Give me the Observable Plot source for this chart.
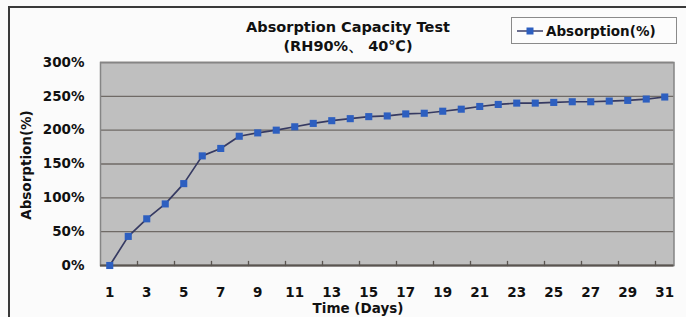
<!DOCTYPE html>
<html>
<head>
<meta charset="utf-8">
<script src="https://cdn.jsdelivr.net/npm/d3@7"></script>
<script src="https://cdn.jsdelivr.net/npm/@observablehq/plot@0.6"></script>
<style>
  html, body { margin: 0; padding: 0; background: #fbfbfb; }
  #wrap { position: relative; width: 686px; height: 317px; overflow: hidden; font-family: "DejaVu Sans", "Liberation Sans", sans-serif; font-weight: bold; color: #111; }
  #border { position: absolute; left: 8px; top: 6px; width: 700px; height: 330px; border-left: 2px solid #3a3a3a; border-top: 2px solid #3a3a3a; }
  #chart { position: absolute; left: 0; top: 0; }
  .title { position: absolute; left: 348px; transform: translateX(-50%); white-space: nowrap; font-size: 14.5px; }
  #legend { position: absolute; left: 511px; top: 17px; width: 164px; height: 25px; border: 1px solid #8a8a8a; background: #fcfcfc; display: flex; align-items: center; font-size: 13.5px; }
  #legend svg { margin-left: 5px; margin-right: 3px; }
  #ytitle { position: absolute; left: 26px; top: 165px; transform: translate(-50%, -50%) rotate(-90deg); font-size: 13.5px; white-space: nowrap; }
  #xtitle { position: absolute; left: 358px; top: 300px; transform: translateX(-50%); font-size: 13.5px; white-space: nowrap; }
</style>
</head>
<body>
<div id="wrap">
  <div id="border"></div>
  <div id="chart"></div>
  <div class="title" id="t1" style="top:19px;"></div>
  <div class="title" id="t2" style="top:37px;"></div>
  <div id="legend"><svg width="26" height="12"><line x1="0" y1="6" x2="26" y2="6" stroke="#3a3f6b" stroke-width="1.5"></line><rect x="9.5" y="2.5" width="7" height="7" fill="#2d5fc0"></rect></svg><span id="legendText"></span></div>
  <div id="ytitle"></div>
  <div id="xtitle"></div>
</div>
<script>
const titleText = "Absorption Capacity Test";
const subtitleText = "(RH90%、 40℃)";
const seriesName = "Absorption(%)";
const yTitle = "Absorption(%)";
const xTitle = "Time (Days)";

const days = [1,2,3,4,5,6,7,8,9,10,11,12,13,14,15,16,17,18,19,20,21,22,23,24,25,26,27,28,29,30,31];
const absorption = [0,43,69,91,121,162,173,191,196,200,205,210,214,217,220,221,224,225,228,231,235,238,240,240,241,242,242,243,244,246,249];
const xTickLabels = [1,3,5,7,9,11,13,15,17,19,21,23,25,27,29,31];
const yTicks = [0,50,100,150,200,250,300];

document.getElementById("t1").textContent = titleText;
document.getElementById("t2").textContent = subtitleText;
document.getElementById("legendText").textContent = seriesName;
document.getElementById("ytitle").textContent = yTitle;
document.getElementById("xtitle").textContent = xTitle;

const data = days.map((d, i) => ({day: d, value: absorption[i]}));
// category boundaries every two days (Excel "between categories" tick marks)
const boundaries = days.filter(d => d % 2 === 0 && d < days.length).map(d => d + 0.5);

const tickShape = {
  draw(context, l) { context.moveTo(0, 0); context.lineTo(0, -l); }
};

const chart = Plot.plot({
  width: 686,
  height: 317,
  marginLeft: 100,
  marginRight: 12.5,
  marginTop: 62,
  marginBottom: 52,
  style: {background: "transparent", fontFamily: "DejaVu Sans, Liberation Sans, sans-serif", fontWeight: "bold", fontSize: "13px", color: "#111"},
  x: {domain: [0.5, days.length + 0.5], axis: null},
  y: {domain: [0, 300], axis: null},
  marks: [
    Plot.frame({fill: "#bfbfbf", stroke: "none"}),
    Plot.gridY(yTicks, {stroke: "#6f6a66", strokeOpacity: 1, strokeWidth: 1.3}),
    Plot.frame({stroke: "#858585", strokeWidth: 1.5}),
    Plot.ruleY([0], {stroke: "#5a5550", strokeWidth: 2}),
    Plot.vector(boundaries, {x: d => d, y: 0, length: 4, rotate: 0, anchor: "start", shape: tickShape, stroke: "#5a5550", strokeWidth: 1.3}),
    Plot.axisY(yTicks, {tickSize: 0, tickPadding: 16, tickFormat: d => d + "%", fontSize: 13.5, fontWeight: "bold", label: null}),
    Plot.axisX(xTickLabels, {tickSize: 0, tickPadding: 22, fontSize: 13.5, fontWeight: "bold", label: null}),
    Plot.line(data, {x: "day", y: "value", stroke: "#363a62", strokeWidth: 1.7}),
    Plot.dot(data, {x: "day", y: "value", symbol: "square", r: 4, fill: "#2d5fc0", stroke: "none"})
  ]
});
document.getElementById("chart").appendChild(chart);
</script>
</body>
</html>
